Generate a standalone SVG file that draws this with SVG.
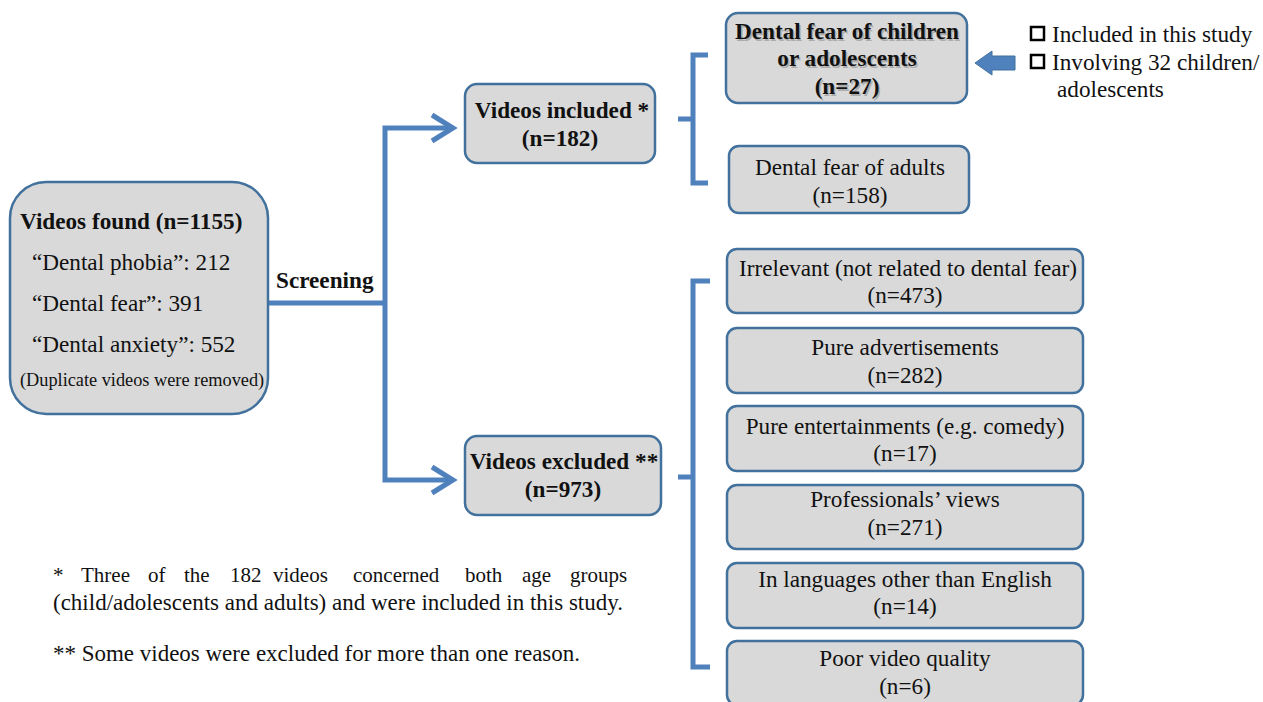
<svg xmlns="http://www.w3.org/2000/svg" width="1263" height="702" viewBox="0 0 1263 702">
<style>
.box{fill:#d9d9d9;stroke:#41719c;stroke-width:2.5}
.t{font-family:"Liberation Serif","Times New Roman",serif;font-size:23.2px;fill:#111}
.b{font-weight:bold}
.c{text-anchor:middle}
.ln{fill:none;stroke:#4f81bd;stroke-width:5;stroke-linejoin:miter}
.sh{fill:#4f81bd}
</style>
<rect width="1263" height="702" fill="#fff"/>
<g id="connectors">
  <polyline class="ln" points="268,303 385,303"/>
  <polyline class="ln" points="450,128 385,128 385,480 450,480"/>
  <polyline class="ln" points="432,115 453,128 432,141"/>
  <polyline class="ln" points="432,467 453,480 432,493"/>
  <polyline class="ln" points="708,55 693,55 693,183 708,183"/>
  <polyline class="ln" points="678,119 693,119"/>
  <polyline class="ln" points="710,281 693,281 693,667 710,667"/>
  <polyline class="ln" points="678,477 693,477"/>
  <polygon class="sh" points="975,63 992,51 992,56 1015,56 1015,70 992,70 992,75" stroke="#41719c" stroke-width="1"/>
</g>
<g id="found">
  <rect class="box" x="10" y="182" width="258" height="232" rx="36"/>
  <text class="t b" x="20" y="229">Videos found (n=1155)</text>
  <text class="t" x="32" y="270">“Dental phobia”: 212</text>
  <text class="t" x="32" y="311">“Dental fear”: 391</text>
  <text class="t" x="32" y="352">“Dental anxiety”: 552</text>
  <text class="t" x="20" y="386" style="font-size:18.3px">(Duplicate videos were removed)</text>
</g>
<g id="screening"><text class="t b" x="276" y="288">Screening</text></g>
<g id="included">
  <rect class="box" x="465" y="84" width="190" height="79" rx="12"/>
  <text class="t b c" x="562" y="118">Videos included *</text>
  <text class="t b c" x="560" y="146">(n=182)</text>
</g>
<g id="excluded">
  <rect class="box" x="465" y="436" width="196" height="79" rx="12"/>
  <text class="t b c" x="564" y="469">Videos excluded **</text>
  <text class="t b c" x="563" y="497">(n=973)</text>
</g>
<g id="children">
  <rect class="box" x="726" y="13" width="241" height="90" rx="12"/>
  <g opacity="0.55" transform="translate(1.5,1.5)">
    <text class="t b c" x="847" y="39" style="fill:#888">Dental fear of children</text>
    <text class="t b c" x="847" y="66" style="fill:#888">or adolescents</text>
    <text class="t b c" x="847" y="94" style="fill:#888">(n=27)</text>
  </g>
  <text class="t b c" x="847" y="39">Dental fear of children</text>
  <text class="t b c" x="847" y="66">or adolescents</text>
  <text class="t b c" x="847" y="94">(n=27)</text>
</g>
<g id="adults">
  <rect class="box" x="729" y="146" width="240" height="67" rx="10"/>
  <text class="t c" x="850" y="175">Dental fear of adults</text>
  <text class="t c" x="850" y="203">(n=158)</text>
</g>
<g id="legend">
  <rect x="1031" y="27" width="13" height="13" fill="#fff" stroke="#000" stroke-width="2.5"/>
  <rect x="1031" y="55" width="13" height="13" fill="#fff" stroke="#000" stroke-width="2.5"/>
  <text class="t" x="1052" y="42">Included in this study</text>
  <text class="t" x="1052" y="70">Involving  32 children/</text>
  <text class="t" x="1057" y="97">adolescents</text>
</g>
<g id="irrelevant">
  <rect class="box" x="727" y="249" width="356" height="64" rx="10"/>
  <text class="t c" x="908" y="276">Irrelevant (not related to dental fear)</text>
  <text class="t c" x="905" y="303">(n=473)</text>
</g>
<g id="ads">
  <rect class="box" x="727" y="328" width="356" height="65" rx="10"/>
  <text class="t c" x="905" y="355">Pure advertisements</text>
  <text class="t c" x="905" y="383">(n=282)</text>
</g>
<g id="entertain">
  <rect class="box" x="727" y="406" width="356" height="65" rx="10"/>
  <text class="t c" x="905" y="434">Pure entertainments (e.g. comedy)</text>
  <text class="t c" x="905" y="461">(n=17)</text>
</g>
<g id="professionals">
  <rect class="box" x="727" y="485" width="356" height="64" rx="10"/>
  <text class="t c" x="905" y="507">Professionals’ views</text>
  <text class="t c" x="905" y="535">(n=271)</text>
</g>
<g id="languages">
  <rect class="box" x="727" y="563" width="356" height="65" rx="10"/>
  <text class="t c" x="905" y="587">In languages other than English</text>
  <text class="t c" x="905" y="614">(n=14)</text>
</g>
<g id="quality">
  <rect class="box" x="727" y="641" width="356" height="64" rx="10"/>
  <text class="t c" x="905" y="666">Poor video quality</text>
  <text class="t c" x="905" y="694">(n=6)</text>
</g>
<g id="notes">
  <text class="t" y="582" style="font-size:21px"><tspan x="53">*</tspan><tspan x="81">Three</tspan><tspan x="148">of</tspan><tspan x="184">the</tspan><tspan x="230">182</tspan><tspan x="273">videos</tspan><tspan x="353">concerned</tspan><tspan x="465">both</tspan><tspan x="522">age</tspan><tspan x="570">groups</tspan></text>
  <text class="t" x="53" y="610" textLength="570" lengthAdjust="spacingAndGlyphs">(child/adolescents and adults) and were included in this study.</text>
  <text class="t" x="53" y="661" textLength="527" lengthAdjust="spacingAndGlyphs">** Some videos were excluded for more than one reason.</text>
</g>
</svg>
